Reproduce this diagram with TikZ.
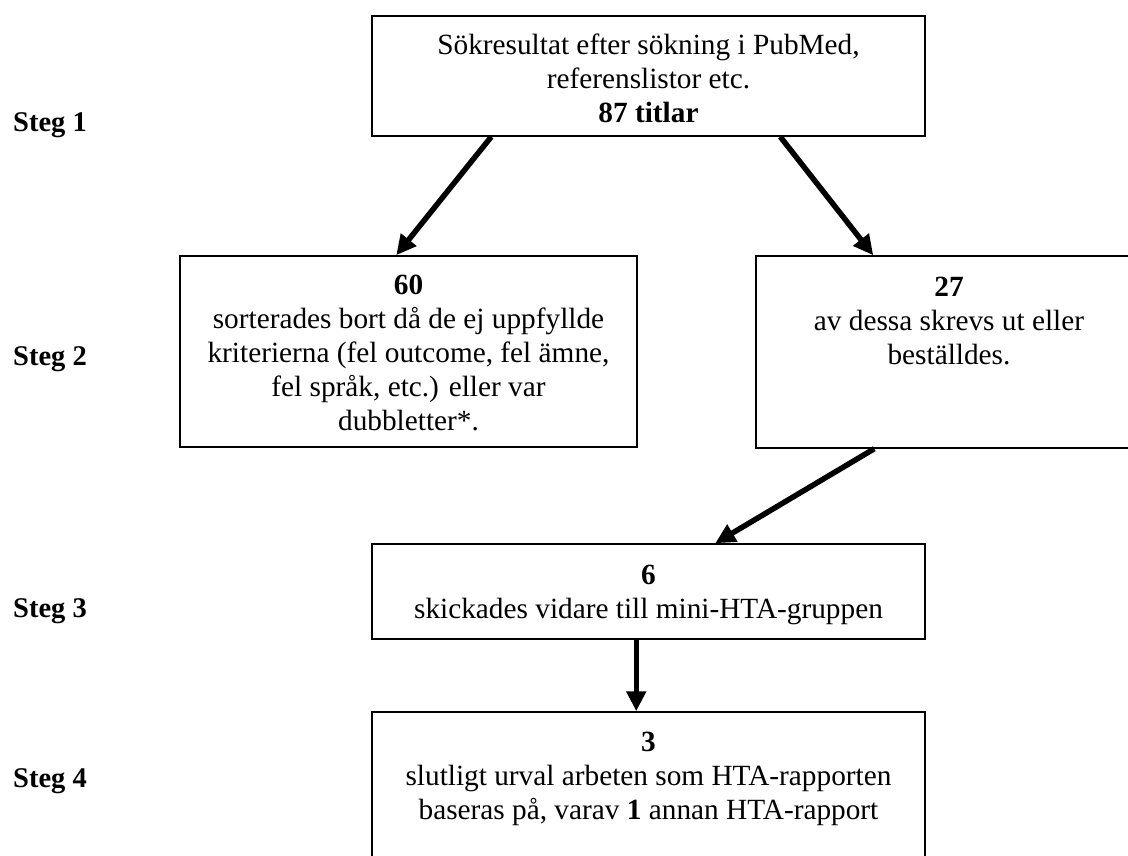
\documentclass[tikz,border=0pt]{standalone}
\usepackage{fontspec}
\setmainfont{Liberation Serif}
\usetikzlibrary{arrows.meta}
\tikzset{
  boxnode/.style={draw, line width=1.5pt, inner sep=0pt, fill=none},
  txt/.style={anchor=north, inner sep=0pt, align=center, font=\fontsize{29.3}{34}\selectfont},
  steglabel/.style={anchor=base west, inner sep=0pt, font=\fontsize{28.5}{34}\selectfont\bfseries},
  arr/.style={line width=5.5pt, -{Triangle[length=20pt,width=19pt]}}
}
\begin{document}
\begin{tikzpicture}[x=1pt,y=-1pt]
\useasboundingbox (0,0) rectangle (1128,856);
\clip (0,0) rectangle (1128,856);
% boxes
\node[boxnode, minimum width=553pt, minimum height=120pt] (b1) at (648.5,76) {};
\node[boxnode, minimum width=457pt, minimum height=191pt] (b2) at (408.5,351.5) {};
\node[boxnode, minimum width=386pt, minimum height=192pt] (b3) at (949,352) {};
\node[boxnode, minimum width=553pt, minimum height=95pt] (b4) at (648.5,591.5) {};
\node[boxnode, minimum width=553pt, minimum height=188pt] (b5) at (648.5,806) {};
% texts
\node[txt] (t1) at ([yshift=-15.2pt]b1.north) {\strut Sökresultat efter sökning i PubMed,\\referenslistor etc.\\\textbf{87 titlar}};
\node[txt] (t2) at ([yshift=-15.2pt]b2.north) {\strut\textbf{60}\\sorterades bort då de ej uppfyllde\\kriterierna (fel outcome, fel ämne,\\fel språk, etc.) eller var\\dubbletter*.};
\node[txt] (t3) at ([yshift=-17pt]b3.north) {\strut\textbf{27}\\av dessa skrevs ut eller\\beställdes.};
\node[txt] (t4) at ([yshift=-17.2pt]b4.north) {\strut\textbf{6}\\skickades vidare till mini-HTA-gruppen};
\node[txt] (t5) at ([yshift=-16.2pt]b5.north) {\strut\textbf{3}\\slutligt urval arbeten som HTA-rapporten\\baseras på, varav \textbf{1} annan HTA-rapport};
% step labels
\node[steglabel] (s1) at (13,132) {Steg 1};
\node[steglabel] (s2) at (13,365) {Steg 2};
\node[steglabel] (s3) at (13,617) {Steg 3};
\node[steglabel] (s4) at (13,787) {Steg 4};
% arrows
\draw[arr] ([xshift=120pt]b1.south west) -- ([xshift=217pt]b2.north west);
\draw[arr] ([xshift=409pt]b1.south west) -- ([xshift=118pt]b3.north west);
\draw[arr] ([xshift=119pt]b3.south west) -- ([xshift=344pt]b4.north west);
\draw[arr] ([xshift=265pt]b4.south west) -- ([xshift=265pt]b5.north west);
\end{tikzpicture}
\end{document}
